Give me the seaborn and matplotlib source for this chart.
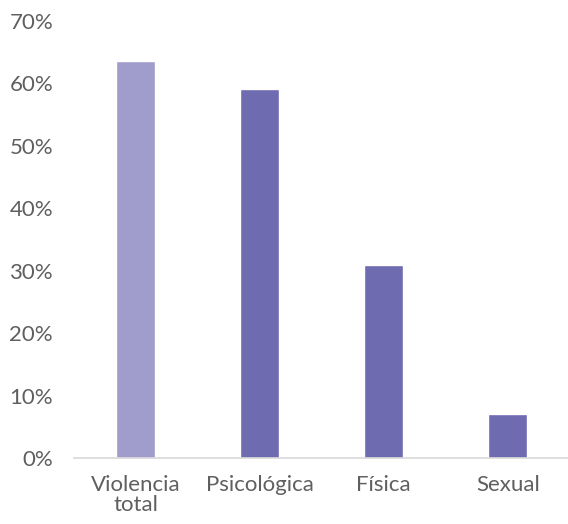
import numpy as np
import pandas as pd
import seaborn as sns
import matplotlib.pyplot as plt
from matplotlib.ticker import FuncFormatter

# valores
categorias = ['Violencia\ntotal', 'Psicológica', 'Física', 'Sexual']
porcentajes = [63.6, 59.1, 30.9, 7.0]
colores = ['#a09ccc', '#6e6bb1', '#6e6bb1', '#6e6bb1']

df = pd.DataFrame({'tipo': categorias, 'pct': porcentajes})

sns.set_style('white')
plt.rcParams['font.family'] = ['Lato', 'DejaVu Sans']

fig = plt.figure(figsize=(5.68, 5.24), dpi=100)
ax = fig.add_axes([0.13, 0.126, 0.873, 0.834])

sns.barplot(data=df, x='tipo', y='pct', hue='tipo', palette=colores,
            legend=False, width=0.315, saturation=1, ax=ax)

ax.set_ylim(0, 70)
ax.set_yticks(np.arange(0, 71, 10))
ax.yaxis.set_major_formatter(FuncFormatter(lambda v, p: f'{int(v)}%'))
ax.set_xlabel('')
ax.set_ylabel('')
for s in ['top', 'right', 'left']:
    ax.spines[s].set_visible(False)
ax.spines['bottom'].set_color('#d9d9d9')
ax.spines['bottom'].set_linewidth(1.2)
ax.tick_params(axis='both', length=0, labelsize=16, labelcolor='#5f5f5f')
ax.tick_params(axis='y', pad=15)
ax.tick_params(axis='x', pad=12)
for t in ax.get_xticklabels():
    t.set_linespacing(1.05)
ax.set_xlim(-0.5, 3.5)

fig.savefig('out.png', dpi=100)
